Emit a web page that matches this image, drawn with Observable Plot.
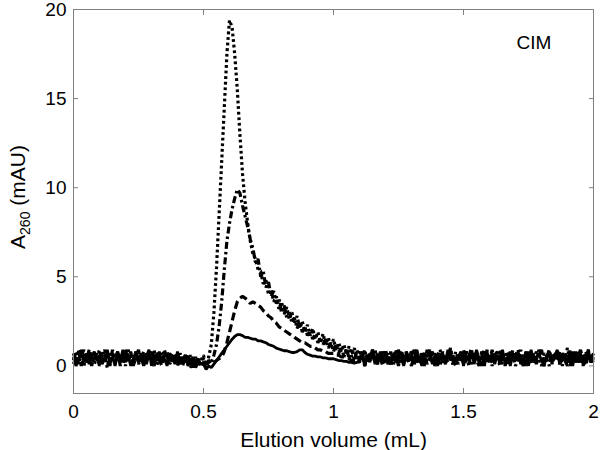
<!DOCTYPE html>
<html>
<head>
<meta charset="utf-8">
<script src="https://cdn.jsdelivr.net/npm/d3@7"></script>
<script src="https://cdn.jsdelivr.net/npm/@observablehq/plot@0.6"></script>
<style>
  html, body { margin: 0; padding: 0; background: white; }
</style>
</head>
<body>
<div id="chart"></div>
<script>
// Tick labels
const xTicks = [0, 0.5, 1, 1.5, 2];
const yTicks = [0, 5, 10, 15, 20];

// Sampling grid: elution volume 0.00 .. 2.00 mL every 0.01 mL (201 samples)
const volume = d3.range(201).map(i => i / 100);

const seriesNames = ["dotted", "dashdot", "dashed", "solid"];

// A260 (mAU) (baseline noise estimated)
const dotted = [
  // 0.00 - 0.49
  0.7,0.2,0.9,0.4,0.0,0.6,0.3,0.8,0.1,0.5,
  0.9,0.2,0.6,-0.1,0.7,0.4,0.1,0.8,0.3,0.6,
  0.0,0.9,0.5,0.2,0.7,0.1,0.4,0.8,0.2,0.6,
  0.3,0.9,0.0,0.5,0.7,0.2,0.8,0.1,0.4,0.6,
  0.0,0.7,0.3,0.5,0.1,0.6,0.2,0.4,0.0,0.3,
  // 0.50 - 1.19
  0.6,-0.1,0.5,1.2,3.0,5.5,8.5,11.5,14.5,17.5,
  19.4,19.0,17.5,15.5,13.0,10.8,9.2,8.0,7.0,6.3,
  6.0,5.4,5.3,4.6,4.8,4.0,4.3,3.6,3.9,3.2,
  3.6,2.9,3.3,2.6,3.0,2.4,2.8,2.1,2.5,1.9,
  2.3,1.7,2.1,1.5,1.9,1.3,1.8,1.2,1.6,1.0,
  1.5,0.9,1.3,0.8,1.2,0.6,1.1,0.5,1.0,0.4,
  0.9,0.3,0.9,0.2,0.8,0.4,0.9,0.1,0.7,0.3,
  // 1.20 - 2.00
  0.9,0.3,0.6,0.0,0.8,0.4,0.1,0.7,0.5,0.2,
  0.9,0.1,0.6,0.3,0.8,0.0,0.5,0.9,0.2,0.7,
  0.4,0.0,0.8,0.3,0.6,1.0,0.2,0.5,0.1,0.7,
  0.3,0.9,0.0,0.6,0.4,0.8,0.1,0.5,0.9,0.2,
  0.6,0.0,0.7,0.3,0.9,0.1,0.5,0.8,0.2,0.6,
  0.0,0.4,0.9,0.3,0.7,0.1,0.6,0.2,0.8,0.4,
  0.0,0.7,0.5,0.9,0.1,0.6,0.3,0.8,0.0,0.5,
  1.0,0.2,0.6,0.4,0.8,0.1,0.7,0.3,0.9,0.2,
  0.5];

const dashdot = [
  0.3,0.8,0.1,0.6,0.9,0.2,0.5,0.0,0.7,0.4,
  0.1,0.8,0.3,0.6,0.0,0.9,0.2,0.5,0.7,0.1,
  0.6,0.3,0.8,0.0,0.5,0.9,0.2,0.6,0.1,0.7,
  0.4,0.0,0.8,0.3,0.5,0.9,0.1,0.6,0.2,0.7,
  0.3,0.5,0.0,0.6,0.2,0.4,-0.1,0.5,0.1,0.2,
  0.4,0.1,0.3,0.2,0.6,1.2,2.2,3.6,5.4,7.0,
  8.0,8.8,9.4,9.9,9.7,9.0,8.4,7.8,7.1,6.6,
  5.8,6.0,5.0,5.3,4.4,4.7,3.9,4.2,3.5,3.8,
  3.0,3.4,2.7,3.0,2.4,2.7,2.1,2.5,1.9,2.2,
  1.7,2.0,1.5,1.8,1.3,1.6,1.2,1.5,1.0,1.3,
  0.8,1.2,0.7,1.1,0.5,1.0,0.4,0.9,0.3,0.9,
  0.2,0.8,0.0,0.7,0.3,0.9,0.1,0.6,0.4,0.8,
  0.2,0.7,0.0,0.5,0.9,0.3,0.6,0.1,0.8,0.4,
  0.0,0.6,0.9,0.2,0.5,0.7,0.1,0.4,0.8,0.3,
  0.6,0.9,0.1,0.5,0.2,0.7,0.0,0.8,0.4,0.6,
  0.9,0.2,0.5,0.1,0.7,0.3,0.0,0.8,0.4,0.6,
  0.2,0.9,0.3,0.5,0.0,0.7,0.4,0.1,0.8,0.3,
  0.6,0.9,0.2,0.5,0.0,0.8,0.3,0.7,0.1,0.6,
  0.9,0.2,0.4,0.0,0.7,0.5,0.8,0.1,0.6,0.3,
  0.0,0.9,0.4,0.7,0.2,0.5,0.0,0.8,0.3,0.6,
  0.1];

const dashed = [
  0.1,0.5,0.8,0.0,0.6,0.3,0.9,0.2,0.4,0.7,
  0.0,0.6,0.9,0.3,0.1,0.7,0.4,0.8,0.0,0.5,
  0.9,0.3,0.6,0.1,0.8,0.2,0.5,0.0,0.7,0.4,
  0.9,0.1,0.6,0.3,0.0,0.8,0.5,0.2,0.7,0.3,
  0.6,0.0,0.5,0.2,0.7,-0.1,0.3,0.2,0.4,0.0,
  0.2,-0.1,0.3,0.1,0.2,0.3,0.4,0.5,0.8,1.3,
  1.9,2.5,3.1,3.6,3.8,3.9,3.8,3.7,3.5,3.6,
  3.5,3.4,3.3,3.1,3.0,2.8,2.7,2.5,2.4,2.2,
  2.1,2.0,1.9,1.8,1.7,1.6,1.5,1.4,1.3,1.3,
  1.2,1.1,1.1,1.0,0.9,0.9,0.8,0.8,0.7,0.7,
  0.7,0.6,0.6,0.5,0.5,0.4,0.4,0.3,0.3,0.3,
  0.2,0.8,0.0,0.6,0.3,0.9,0.1,0.7,0.4,0.0,
  0.5,0.1,0.8,0.3,0.6,0.0,0.9,0.4,0.2,0.7,
  0.5,0.0,0.8,0.3,0.6,0.1,0.9,0.4,0.7,0.0,
  0.3,0.8,0.5,0.1,0.6,0.9,0.3,0.0,0.7,0.4,
  0.2,0.8,0.5,1.0,0.1,0.6,0.3,0.7,0.0,0.9,
  0.4,0.2,0.6,0.8,0.1,0.5,0.0,0.7,0.3,0.9,
  0.2,0.6,0.4,0.0,0.8,0.5,0.1,0.7,0.3,0.9,
  0.6,0.0,0.4,0.8,0.2,0.5,0.9,0.1,0.7,0.3,
  0.6,0.0,0.8,0.2,0.5,0.9,0.3,0.0,0.6,0.4,
  0.7];

const solid = [
  0.5,0.0,0.4,0.9,0.2,0.7,0.1,0.5,0.8,0.3,
  0.6,0.1,0.4,0.9,0.2,0.5,0.0,0.7,0.3,0.9,
  0.2,0.6,0.0,0.4,0.8,0.3,0.7,0.1,0.5,0.9,
  0.0,0.6,0.3,0.8,0.2,0.4,0.0,0.7,0.5,0.1,
  0.8,0.2,0.4,0.6,0.0,0.3,0.5,-0.1,0.2,0.1,
  0.1,-0.2,0.0,-0.1,0.1,0.3,0.5,0.7,0.9,1.1,
  1.3,1.5,1.65,1.75,1.75,1.7,1.6,1.6,1.55,1.5,
  1.5,1.4,1.4,1.35,1.3,1.2,1.15,1.1,1.0,0.95,
  0.9,0.85,0.85,0.8,0.75,0.75,0.8,0.9,0.9,0.75,
  0.65,0.6,0.55,0.55,0.5,0.5,0.45,0.45,0.4,0.4,
  0.4,0.35,0.3,0.3,0.25,0.25,0.2,0.2,0.15,0.2,
  0.3,0.7,0.0,0.6,0.2,0.9,0.4,0.1,0.8,0.3,
  0.8,0.4,0.1,0.6,0.2,0.9,0.5,0.0,0.7,0.3,
  0.6,0.9,0.2,0.4,0.0,0.7,0.5,0.8,0.1,0.6,
  0.0,0.4,0.7,0.2,0.9,0.3,0.6,0.1,0.5,0.8,
  0.0,0.6,0.3,0.7,0.2,0.9,0.4,0.0,0.5,0.8,
  0.3,0.7,0.1,0.6,0.4,0.9,0.2,0.5,0.0,0.7,
  0.3,0.8,0.1,0.4,0.6,0.0,0.9,0.2,0.5,0.7,
  0.3,0.0,0.6,0.8,0.2,0.4,0.9,0.1,0.7,0.5,
  0.2,0.6,0.0,0.8,0.3,0.7,0.1,0.5,0.9,0.2,
  0.4];

const values = {dotted, dashdot, dashed, solid};
const tables = Object.fromEntries(seriesNames.map(name => {
  const ys = values[name];
  const n = Math.min(volume.length, ys.length);
  return [name, d3.range(n).map(i => ({series: name, x: volume[i], y: ys[i]}))];
}));

const styles = {
  dotted:  {strokeWidth: 3.2, strokeDasharray: "2.8,2.8"},
  dashdot: {strokeWidth: 3.2, strokeDasharray: "7,3,2.5,3"},
  dashed:  {strokeWidth: 3.2, strokeDasharray: "8,4"},
  solid:   {strokeWidth: 2.8}
};

const gray = "#808080";
const FONT = "'Liberation Sans', Arial, Helvetica, sans-serif";

const chart = Plot.plot({
  width: 600,
  height: 450,
  marginLeft: 73,
  marginRight: 7,
  marginTop: 9,
  marginBottom: 57,
  style: {fontFamily: FONT, fontSize: "19px", background: "white", color: "black", overflow: "visible"},
  x: {domain: [0, 2]},
  y: {domain: [-1.55, 20]},
  marks: [
    Plot.axisX({ticks: xTicks, tickFormat: d => String(d), tickSize: -5, tickPadding: 16, stroke: gray, label: null}),
    Plot.axisX({anchor: "top", ticks: xTicks, tickFormat: () => "", tickSize: -5, stroke: gray, label: null}),
    Plot.axisY({ticks: yTicks, tickFormat: d => String(d), tickSize: -5, tickPadding: 12, stroke: gray, label: null}),
    Plot.axisY({anchor: "right", ticks: yTicks, tickFormat: () => "", tickSize: -5, stroke: gray, label: null}),
    ...seriesNames.map(name => Plot.line(tables[name], {
      x: "x", y: "y", stroke: "black", strokeLinejoin: "miter", strokeLinecap: "butt", ...styles[name]
    })),
    Plot.frame({stroke: gray, strokeWidth: 1}),
    Plot.text(["Elution volume (mL)"], {frameAnchor: "bottom", lineAnchor: "middle", dy: 47, fontSize: 21, fill: "black"}),
    Plot.text(["CIM"], {frameAnchor: "top-right", textAnchor: "start", lineAnchor: "middle",
                        dx: -77, dy: 33, fontSize: 19, fill: "black"})
  ]
});

// Y axis title with subscript
const svg = d3.select(chart);
const t = svg.append("text")
  .attr("transform", "translate(25,197) rotate(-90)")
  .attr("text-anchor", "middle")
  .attr("font-family", FONT)
  .attr("font-size", 21)
  .attr("fill", "black");
t.append("tspan").text("A");
t.append("tspan").attr("font-size", 14).attr("dy", 5).text("260");
t.append("tspan").attr("dy", -5).text(" (mAU)");

document.getElementById("chart").appendChild(chart);
</script>
</body>
</html>
